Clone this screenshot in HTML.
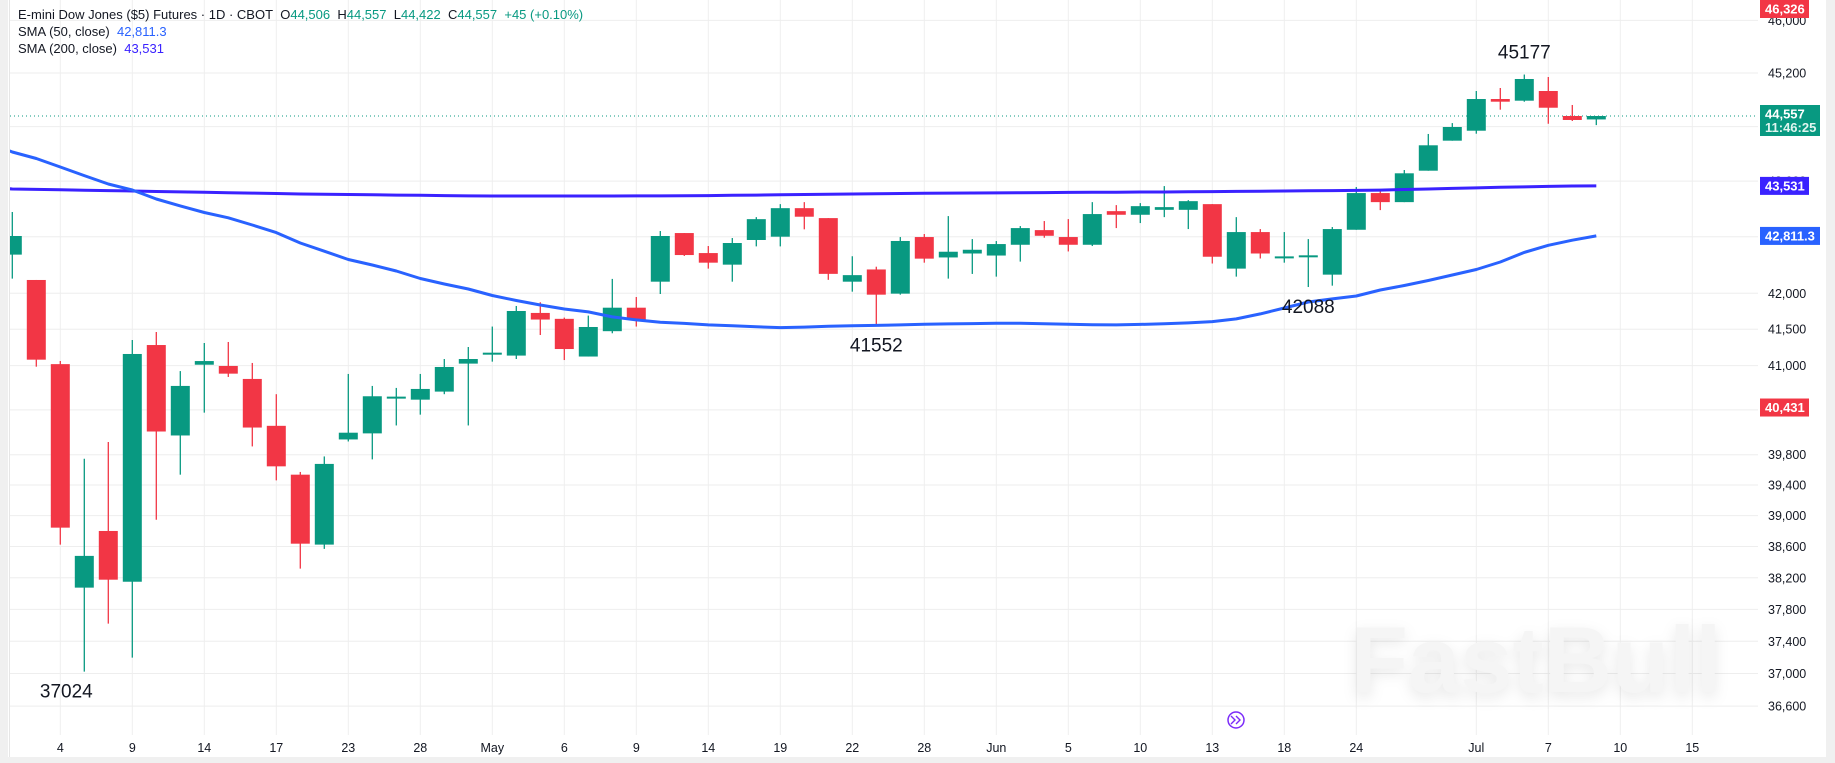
<!DOCTYPE html>
<html>
<head>
<meta charset="utf-8">
<style>
html,body{margin:0;padding:0;background:#f0f0f0;}
#wrap{position:relative;width:1835px;height:763px;overflow:hidden;background:#f0f0f0;}
#chart{position:absolute;left:0;top:0;}
.legend{position:absolute;left:18px;font-family:"Liberation Sans",sans-serif;font-size:13px;color:#131722;white-space:nowrap;}
</style>
</head>
<body>
<div id="wrap">
<svg id="chart" width="1835" height="763"></svg>
<div class="legend" style="top:7px">E-mini Dow Jones ($5) Futures · 1D · CBOT&nbsp; O<span style="color:#089981">44,506</span>&nbsp; H<span style="color:#089981">44,557</span>&nbsp; L<span style="color:#089981">44,422</span>&nbsp; C<span style="color:#089981">44,557</span>&nbsp; <span style="color:#089981">+45 (+0.10%)</span></div>
<div class="legend" style="top:24px">SMA (50, close)&nbsp; <span style="color:#2962ff">42,811.3</span></div>
<div class="legend" style="top:41px">SMA (200, close)&nbsp; <span style="color:#3a22ff">43,531</span></div>
</div>
<script>
const opens  = [42545,42187,41020,38075,38801,38150,41282,40056,41012,40995,40818,40185,39536,38625,40003,40084,40560,40537,40646,41027,41150,41137,41726,41644,41124,41473,41799,42163,42852,42567,42403,42753,42800,43209,43066,42163,42335,41995,42795,42505,42561,42532,42685,42894,42795,42685,43166,43114,43185,43185,43267,42347,42866,42510,42520,42262,42899,43427,43296,43752,44192,44339,44810,44785,44930,44557,44506];
const highs  = [43154,42187,41063,39747,39969,41352,41461,40925,41310,41324,41036,40611,39572,39777,40886,40723,40696,40886,41090,41255,41537,41823,41875,41661,41689,42202,41948,42881,42852,42667,42781,43080,43267,43296,43066,42522,42374,42795,42838,43095,42766,42738,42952,43024,43052,43296,43253,43282,43528,43325,43267,43080,42909,42866,42766,42938,43514,43470,43762,44291,44452,44930,44975,45177,45140,44721,44557];
const lows   = [42206,40985,38625,37024,37621,37197,38947,39536,40362,40845,39910,39461,38317,38570,39976,39738,40190,40335,40611,40190,41054,41090,41420,41076,41124,41444,41537,41990,42526,42347,42163,42662,42662,42905,42189,42023,41552,41981,42431,42206,42272,42234,42446,42785,42590,42667,42923,42995,43080,42909,42419,42234,42490,42431,42088,42107,42899,43181,43296,43752,44192,44295,44651,44770,44442,44483,44422];
const closes = [42810,41081,38844,38480,38176,41159,40109,40723,41062,40890,40162,39646,38637,39678,40093,40583,40578,40682,40981,41090,41177,41753,41634,41227,41531,41799,41634,42810,42539,42431,42710,43051,43209,43086,42273,42255,41981,42739,42488,42586,42614,42695,42923,42813,42685,43124,43114,43238,43224,43310,42515,42866,42561,42520,42535,42909,43427,43296,43714,44124,44394,44810,44770,45110,44680,44498,44557];
const sma50  = [44026,43930,43806,43681,43559,43472,43341,43242,43146,43071,42967,42858,42710,42593,42476,42398,42313,42208,42130,42060,41969,41900,41837,41781,41740,41671,41629,41598,41581,41560,41547,41533,41523,41530,41540,41549,41553,41560,41570,41574,41578,41582,41584,41577,41568,41563,41560,41567,41577,41588,41606,41643,41713,41795,41879,41921,41962,42046,42109,42179,42257,42334,42441,42577,42677,42750,42811];
const sma200 = [43486,43480,43475,43469,43463,43457,43450,43444,43438,43432,43426,43420,43414,43410,43406,43402,43398,43394,43390,43386,43385,43384,43384,43384,43385,43385,43386,43386,43387,43390,43394,43398,43402,43406,43410,43414,43418,43421,43424,43426,43428,43430,43432,43434,43436,43438,43440,43442,43443,43445,43448,43451,43454,43457,43460,43463,43466,43470,43478,43486,43494,43502,43510,43517,43524,43530,43531];
const priceTicks = [46000,45200,44400,43600,42800,42000,41500,41000,40400,39800,39400,39000,38600,38200,37800,37400,37000,36600];
const tickLabels = ["46,000","45,200","44,400","43,600","42,800","42,000","41,500","41,000","40,400","39,800","39,400","39,000","38,600","38,200","37,800","37,400","37,000","36,600"];
const dateIdx = [2,5,8,11,14,17,20,23,26,29,32,35,38,41,44,47,50,53,56,61,64,67,70];
const dateLabels = ["4","9","14","17","23","28","May","6","9","14","19","22","28","Jun","5","10","13","18","24","Jul","7","10","15"];
const annIdx = [3,36,54,63];
const annVals = [37024,41552,42088,45177];
const annBelow = [true,true,true,false];

const NS="http://www.w3.org/2000/svg";
const svg=document.getElementById('chart');
const PL=10, PR=1758, PT=0, PB=735;
function y(p){return 293.3+3000*Math.log(42000/p);}
function x(i){return 12.3+24*i;}
function mk(tag,attrs,parent){const e=document.createElementNS(NS,tag);for(const k in attrs)e.setAttribute(k,attrs[k]);(parent||svg).appendChild(e);return e;}

const bg=mk('rect',{x:8,y:0,width:1818,height:758,fill:'#ffffff'});


mk('line',{x1:9.5,y1:0,x2:9.5,y2:758,stroke:'#e6e6e6','stroke-width':1});

const clip=mk('clipPath',{id:'plotclip'});
mk('rect',{x:PL,y:PT,width:PR-PL,height:PB-PT},clip);

const grid=mk('g',{});


priceTicks.forEach(p=>{
  const l=mk('line',{x1:PL,x2:PR,y1:y(p),y2:y(p),stroke:'#eeeeee','stroke-width':1},grid);
  
  
});
dateIdx.forEach(i=>{
  const l=mk('line',{x1:x(i),x2:x(i),y1:PT,y2:PB,stroke:'#eeeeee','stroke-width':1},grid);
  
  
});

const wm=mk('text',{x:1536,y:692,'text-anchor':'middle','font-family':'"Liberation Sans",sans-serif','font-size':94,'font-weight':'bold',fill:'#f5f5f5',style:'filter:drop-shadow(0 5px 7px rgba(0,0,0,0.09))'});
wm.textContent='FastBull';



const plot=mk('g',{'clip-path':'url(#plotclip)'});

const cl=mk('line',{x1:PL,x2:PR,y1:y(closes[closes.length-1]),y2:y(closes[closes.length-1]),stroke:'#089981','stroke-width':1,'stroke-dasharray':'1 3'},plot);



opens.forEach((o,i)=>{
  const c=closes[i],h=highs[i],l=lows[i];
  const col=c>=o?'#089981':'#f23645';
  const g=mk('g',{},plot);
  
  
  mk('line',{x1:x(i),x2:x(i),y1:y(h),y2:y(l),stroke:col,'stroke-width':1.3},g);
  const top=y(Math.max(o,c)),bot=y(Math.min(o,c));
  mk('rect',{x:x(i)-9.5,y:top,width:19,height:Math.max(2,bot-top),fill:col},g);
});

function linePath(vals){return vals.map((v,i)=>(i?'L':'M')+x(i).toFixed(1)+','+y(v).toFixed(1)).join(' ');}
const s200=mk('path',{d:'M0,'+(y(sma200[0])-1).toFixed(1)+' L'+linePath(sma200).slice(1),fill:'none',stroke:'#3a22ff','stroke-width':3,'stroke-linejoin':'round'},plot);


const s50=mk('path',{d:'M0,'+(y(sma50[0])-5).toFixed(1)+' L'+linePath(sma50).slice(1),fill:'none',stroke:'#2962ff','stroke-width':3,'stroke-linejoin':'round'},plot);



annIdx.forEach((i,k)=>{
  const v=annVals[k];
  const ty=annBelow[k]?y(lows[i])+26:y(highs[i])-16;
  const t=mk('text',{x:x(i)+(k==0?-18:0),y:ty,'text-anchor':'middle','font-family':'"Liberation Sans",sans-serif','font-size':19,fill:'#131722'});
  t.textContent=String(v);
  
  
});

priceTicks.forEach((p,k)=>{
  const t=mk('text',{x:1768,y:y(p)+4.5,'font-family':'"Liberation Sans",sans-serif','font-size':12.5,fill:'#131722'});
  t.textContent=tickLabels[k];
  
  
});

function badge(p,txt,col,w,name,sub){
  let cy=y(p); const h=sub?31:18;
  let top=sub?cy-11:cy-h/2; if(top<0)top=0;
  const g=mk('g',{});
  
  
  mk('rect',{x:1760,y:top,width:w,height:h,fill:col},g);
  const t=mk('text',{x:1765,y:top+13.5,'font-family':'"Liberation Sans",sans-serif','font-size':13,'font-weight':'bold',fill:'#ffffff'},g);
  t.textContent=txt;
  if(sub){const s=mk('text',{x:1765,y:top+27,'font-family':'"Liberation Sans",sans-serif','font-size':13,'font-weight':'bold',fill:'#e0f5ef'},g);s.textContent=sub;}
}
badge(40431,'40,431','#f23645',49,'low-price-badge');
badge(46326,'46,326','#f23645',49,'high-price-badge');
badge(sma200[sma200.length-1],'43,531','#3a22ff',49,'sma200-badge');
badge(sma50[sma50.length-1],'42,811.3','#2962ff',60,'sma50-badge');
badge(closes[closes.length-1],'44,557','#089981',60,'last-price-badge','11:46:25');

dateIdx.forEach((i,k)=>{
  const t=mk('text',{x:x(i),y:752,'text-anchor':'middle','font-family':'"Liberation Sans",sans-serif','font-size':12.5,fill:'#131722'});
  t.textContent=dateLabels[k];
  
  
});

const ic=mk('g',{});


mk('circle',{cx:1236,cy:720,r:8,fill:'#ffffff',stroke:'#7b2bf9','stroke-width':1.5},ic);
mk('path',{d:'M1231,716 l4,4 l-4,4 M1236,716 l4,4 l-4,4',fill:'none',stroke:'#7b2bf9','stroke-width':1.4},ic);

mk('rect',{x:8,y:757,width:1818,height:6,fill:'#f0f0f0'});
</script>
</body>
</html>
